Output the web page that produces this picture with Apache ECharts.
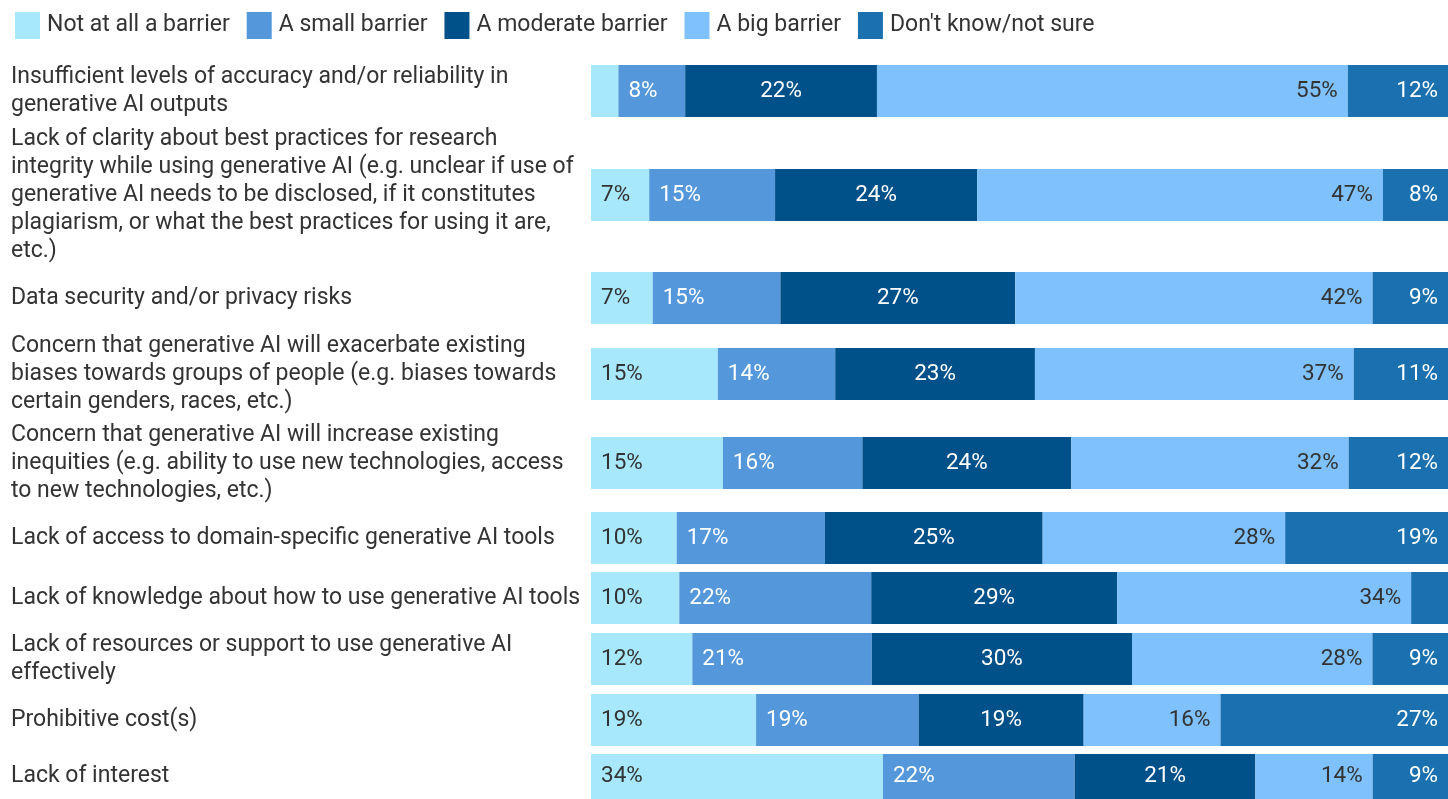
<!DOCTYPE html>
<html>
<head>
<meta charset="utf-8">
<script src="https://cdn.jsdelivr.net/npm/echarts@6/dist/echarts.min.js"></script>
<style>
html,body{margin:0;padding:0;background:#fff;}
#chart{width:1448px;height:799px;}
</style>
</head>
<body>
<div id="chart"></div>
<script>
var categories = [
  "Insufficient levels of accuracy and/or reliability in\ngenerative AI outputs",
  "Lack of clarity about best practices for research\nintegrity while using generative AI (e.g. unclear if use of\ngenerative AI needs to be disclosed, if it constitutes\nplagiarism, or what the best practices for using it are,\netc.)",
  "Data security and/or privacy risks",
  "Concern that generative AI will exacerbate existing\nbiases towards groups of people (e.g. biases towards\ncertain genders, races, etc.)",
  "Concern that generative AI will increase existing\ninequities (e.g. ability to use new technologies, access\nto new technologies, etc.)",
  "Lack of access to domain-specific generative AI tools",
  "Lack of knowledge about how to use generative AI tools",
  "Lack of resources or support to use generative AI\neffectively",
  "Prohibitive cost(s)",
  "Lack of interest"
];
var seriesNames = ["Not at all a barrier", "A small barrier", "A moderate barrier", "A big barrier", "Don't know/not sure"];
var notAtAll = [3.2, 6.8, 7.2, 14.8, 15.4, 10.0, 10.3, 11.8, 19.3, 34.1];
var small    = [7.8, 14.7, 14.9, 13.7, 16.3, 17.3, 22.4, 20.9, 19.0, 22.4];
var moderate = [22.4, 23.6, 27.4, 23.3, 24.4, 25.4, 28.7, 30.3, 19.3, 21.1];
var big      = [55.0, 47.4, 41.7, 37.2, 32.4, 28.3, 34.3, 28.0, 16.0, 13.7];
var dontKnow = [11.7, 7.6, 8.8, 11.0, 11.6, 19.0, 4.3, 8.8, 26.6, 8.8];

var values = [notAtAll, small, moderate, big, dontKnow];
var colors = ['#a8e8fc', '#5498db', '#005089', '#7ec1fc', '#1b71b0'];
var labelColors = ['#333333', '#ffffff', '#ffffff', '#333333', '#ffffff'];
var labelPos = ['insideLeft', 'insideLeft', 'inside', 'insideRight', 'insideRight'];
var rowTops = [65, 169, 272, 348, 437, 512, 572, 633, 694, 754];
var rowHeight = 52;
var FONT = 'Roboto, "Noto Sans", sans-serif';

var grids = [], xAxes = [], yAxes = [], series = [];
categories.forEach(function (cat, i) {
  var total = 0;
  values.forEach(function (arr) { total += arr[i]; });
  grids.push({ left: 591, right: 0, top: rowTops[i], height: rowHeight, containLabel: false });
  xAxes.push({ type: 'value', gridIndex: i, min: 0, max: total, show: false });
  yAxes.push({
    type: 'category', gridIndex: i, data: [cat],
    axisLine: { show: false }, axisTick: { show: false },
    axisLabel: {
      align: 'left', margin: 580, fontSize: 23, lineHeight: 28,
      color: '#333333', fontFamily: FONT
    }
  });
  values.forEach(function (arr, s) {
    series.push({
      name: seriesNames[s], type: 'bar', stack: 'row' + i,
      xAxisIndex: i, yAxisIndex: i,
      barWidth: '100%',
      data: [arr[i]],
      itemStyle: { color: colors[s] },
      label: {
        show: arr[i] >= 5, position: labelPos[s], distance: 10,
        color: labelColors[s], fontSize: 22.5, fontFamily: FONT,
        formatter: function (p) { return Math.round(p.value) + '%'; }
      },
      emphasis: { disabled: true },
      animation: false
    });
  });
});

var chart = echarts.init(document.getElementById('chart'));
chart.setOption({
  backgroundColor: '#ffffff',
  textStyle: { fontFamily: FONT },
  legend: {
    data: seriesNames, left: 10, top: 7,
    itemWidth: 25, itemHeight: 27, itemGap: 17, icon: 'rect',
    textStyle: { fontSize: 23, color: '#333333', fontFamily: FONT, padding: [0, 0, 0, 2] },
    selectedMode: false
  },
  grid: grids,
  xAxis: xAxes,
  yAxis: yAxes,
  series: series
});
</script>
</body>
</html>
